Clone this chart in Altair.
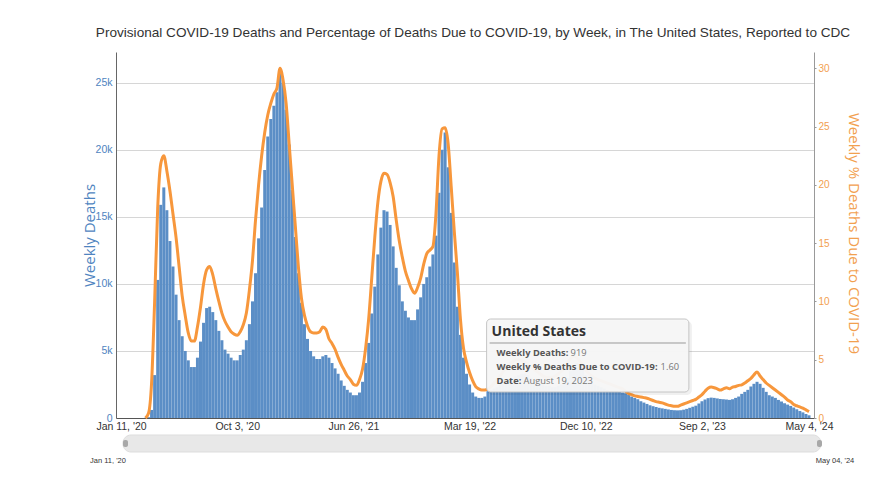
import altair as alt
import pandas as pd

# ---------------- data ----------------
start_date = "2020-01-11"
n_weeks = 226

deaths = [
    0, 0, 0, 0, 0, 0, 0, 0, 20, 60,
    600, 3200, 10300, 15900, 17200, 15500, 13200, 11300, 9200, 7300,
    6100, 5000, 4300, 3800, 3800, 4500, 5700, 7100, 8200, 8300,
    7900, 7300, 6500, 5800, 5100, 4800, 4500, 4300, 4300, 4700,
    5100, 5800, 7000, 8700, 10800, 13400, 15700, 18500, 21000, 22300,
    23300, 24300, 26000, 25000, 23000, 20400, 17000, 13500, 10800, 8600,
    7000, 5900, 5000, 4600, 4400, 4400, 4600, 4700, 4500, 4100,
    3700, 3300, 2800, 2400, 2100, 1900, 1700, 1700, 1900, 2700,
    4100, 5600, 7800, 9800, 12200, 14200, 15500, 15400, 14400, 12800,
    11200, 9900, 8700, 8000, 7500, 7300, 7300, 8100, 9000, 10000,
    10500, 11300, 12200, 13600, 16800, 20000, 21300, 18700, 15300, 11600,
    8300, 6200, 4500, 3300, 2500, 1900, 1600, 1500, 1500, 1600,
    2000, 2100, 2200, 2300, 2500, 2600, 2700, 2800, 3000, 3100,
    3200, 3300, 3300, 3200, 3000, 2900, 2700, 2600, 2500, 2400,
    2400, 2300, 2300, 2400, 2500, 2700, 3000, 3500, 3900, 4100,
    4000, 3600, 3200, 2800, 2600, 2500, 2400, 2300, 2200, 2100,
    2000, 2000, 2000, 1950, 1900, 1850, 1750, 1600, 1500, 1400,
    1250, 1150, 1050, 950, 880, 820, 760, 720, 680, 640,
    600, 580, 570, 580, 620, 680, 760, 840, 919, 1080,
    1250, 1380, 1480, 1520, 1500, 1460, 1420, 1400, 1380, 1350,
    1400, 1500, 1600, 1800, 1950, 2100, 2350, 2550, 2700, 2550,
    2250, 1950, 1700, 1600, 1500, 1350, 1230, 1100, 1000, 900,
    780, 650, 520, 420, 300, 200,
]

pct = [
    None, None, None, None, None, None, None, None, 0.0, 0.4,
    3.0, 10.0, 18.0, 21.8, 22.5, 21.2, 19.5, 17.5, 15.5, 13.0,
    10.5, 8.8, 7.3, 6.6, 6.6, 7.8, 9.5, 11.5, 12.7, 13.0,
    12.3, 11.1, 10.0, 9.0, 8.3, 7.8, 7.4, 7.2, 7.1, 7.4,
    8.0, 9.0, 11.0, 13.5, 17.0, 20.0, 22.5, 24.5, 26.0, 27.0,
    27.8, 28.3, 30.0, 29.0, 27.0, 23.5, 20.0, 16.5, 13.0, 10.3,
    8.8, 7.9, 7.4, 7.3, 7.3, 7.4, 7.8, 7.6, 6.8, 6.4,
    5.9, 5.2, 4.6, 4.1, 3.6, 3.3, 2.9, 2.8, 3.3, 4.2,
    6.0, 8.5, 12.0, 15.5, 18.5, 20.3, 21.0, 20.9, 20.2, 19.0,
    17.0, 15.2, 13.8, 12.6, 11.8, 11.1, 10.7, 11.2, 12.0, 13.2,
    14.1, 14.4, 14.7, 17.5, 22.5, 24.8, 24.9, 23.5, 19.8, 16.0,
    12.5, 8.5, 6.0, 4.8, 3.9, 3.2, 2.7, 2.5, 2.4, 2.4,
    2.5, 2.7, 3.0, 3.3, 3.6, 4.0, 4.3, 4.6, 4.8, 5.0,
    5.0, 4.9, 4.8, 4.6, 4.4, 4.2, 4.0, 3.8, 3.6, 3.5,
    3.5, 3.5, 3.6, 3.8, 4.0, 4.3, 4.7, 5.1, 5.3, 5.2,
    4.9, 4.5, 4.1, 3.8, 3.6, 3.4, 3.3, 3.2, 3.1, 3.0,
    2.9, 2.8, 2.7, 2.6, 2.5, 2.3, 2.1, 2.0, 1.9, 1.85,
    1.8, 1.75, 1.7, 1.6, 1.5, 1.4, 1.35, 1.3, 1.2, 1.1,
    1.05, 1.0, 1.0, 1.1, 1.2, 1.3, 1.4, 1.5, 1.6, 1.8,
    2.0, 2.3, 2.55, 2.65, 2.6, 2.5, 2.4, 2.5, 2.6, 2.5,
    2.65, 2.7, 2.8, 2.85, 3.0, 3.2, 3.4, 3.7, 3.95, 3.6,
    3.3, 3.0, 2.8, 2.6, 2.4, 2.2, 2.0, 1.8, 1.55, 1.4,
    1.15, 1.05, 0.95, 0.85, 0.7, 0.55,
]

x_tick_dates = [(2020, 1, 11), (2020, 10, 3), (2021, 6, 26), (2022, 3, 19),
                (2022, 12, 10), (2023, 9, 2), (2024, 5, 4)]
left_ticks = [0, 5000, 10000, 15000, 20000, 25000]
right_ticks = [0, 5, 10, 15, 20, 25, 30]

title_text = ("Provisional COVID-19 Deaths and Percentage of Deaths Due to COVID-19, "
              "by Week, in The United States, Reported to CDC")

tip_region = ["2022-04-27", "2023-08-03"]
tip_header = "United States"
tip_labels = ["Weekly Deaths:", "Weekly % Deaths Due to COVID-19:", "Date:"]
tip_values = ["919", "1.60", "August 19, 2023"]

nav_range = ["2020-01-11", "2024-05-04"]
nav_labels = ["Jan 11, '20", "May 04, '24"]

# ---------------- build ----------------
dates = pd.date_range(start_date, periods=n_weeks, freq="7D").strftime("%Y-%m-%d")
df = pd.DataFrame({"date": dates, "deaths": deaths, "pct": pct})

W, H = 698, 366
LIB = "Liberation Sans, Arial, sans-serif"
SANS = "Open Sans, sans-serif"
BLUE = "#5b8ec6"
BLUE_TXT = "#4f84c0"
ORANGE = "#f7973c"
ORANGE_TXT = "#f2a04f"

def dt(t):
    return alt.DateTime(year=t[0], month=t[1], date=t[2], utc=True)

xscale = alt.Scale(type="utc", domain=[dt(x_tick_dates[0]), dt(x_tick_dates[-1])], nice=False)
xaxis = alt.Axis(values=[dt(t) for t in x_tick_dates],
                 labelExpr="utcFormat(datum.value, \"%b %-d, '%y\")",
                 title=None, labelFont=LIB, labelFontSize=10.5, labelColor="#333",
                 domainColor="#555", ticks=False, labelPadding=3, grid=False,
                 labelOverlap=False, labelFlush=False, labelBound=False)

bars = alt.Chart(df).mark_bar(color=BLUE, size=3.0).encode(
    x=alt.X("date:T", scale=xscale, axis=xaxis),
    y=alt.Y("deaths:Q", scale=alt.Scale(domain=[0, 27300], nice=False),
            axis=alt.Axis(values=left_ticks,
                          labelExpr="datum.value == 0 ? '0' : (datum.value/1000) + 'k'",
                          labelFont=LIB, labelFontSize=10.5, labelColor=BLUE_TXT,
                          ticks=False, labelPadding=4, domainColor="#666",
                          gridColor="#d6d6d6", grid=True,
                          title="Weekly Deaths", titleFont=SANS, titleFontSize=15,
                          titleFontWeight="normal", titleColor=BLUE_TXT,
                          titleX=-27, titleY=183, titleAlign="center",
                          titleBaseline="middle")),
)

line = alt.Chart(df).mark_line(color=ORANGE, strokeWidth=3, interpolate="monotone").encode(
    x=alt.X("date:T", scale=xscale, axis=xaxis),
    y=alt.Y("pct:Q", scale=alt.Scale(domain=[0, 31.4], nice=False),
            axis=alt.Axis(orient="right", values=right_ticks, labelFont=LIB,
                          labelFontSize=10, labelColor=ORANGE_TXT, tickSize=2,
                          tickColor="#999", domainColor="#999", labelPadding=2,
                          grid=False,
                          title="Weekly % Deaths Due to COVID-19", titleFont=SANS,
                          titleFontSize=15, titleFontWeight="normal",
                          titleColor=ORANGE_TXT, titleAngle=90,
                          titleX=39, titleY=181, titleAlign="center",
                          titleBaseline="middle")),
)

tip_df = pd.DataFrame({"x0": [tip_region[0]], "x1": [tip_region[1]]})
tx0 = alt.X("x0:T", scale=xscale, axis=xaxis)
tip_shadow = alt.Chart(tip_df).mark_rect(fill="#000000", opacity=0.06, cornerRadius=5,
                                         xOffset=1, x2Offset=3).encode(
    x=tx0, x2="x1:T", y=alt.value(269), y2=alt.value(343))
tip_box = alt.Chart(tip_df).mark_rect(fill="#f7f7f7", stroke="#c4c4c4", strokeWidth=1,
                                      cornerRadius=4, opacity=0.97).encode(
    x=tx0, x2="x1:T", y=alt.value(267), y2=alt.value(340))
tip_head = alt.Chart(tip_df).mark_text(text=tip_header, align="left", baseline="middle",
                                       dx=5, font=SANS, fontSize=14, fontWeight="bold",
                                       color="#333").encode(x=tx0, y=alt.value(280))
tip_sep = alt.Chart(tip_df).mark_rule(color="#999", strokeWidth=1, xOffset=3,
                                      x2Offset=-3).encode(x=tx0, x2="x1:T", y=alt.value(291))
row_y = [301, 315, 329]
val_dx = [84, 174, 37]
tip_rows = []
for lab, val, yy, vdx in zip(tip_labels, tip_values, row_y, val_dx):
    tip_rows.append(alt.Chart(tip_df).mark_text(text=lab, align="left", baseline="middle",
                                                dx=10, font=SANS, fontSize=9.3,
                                                fontWeight="bold", color="#555").encode(
        x=tx0, y=alt.value(yy)))
    tip_rows.append(alt.Chart(tip_df).mark_text(text=val, align="left", baseline="middle",
                                                dx=vdx, font=SANS, fontSize=9.3,
                                                color="#777").encode(
        x=tx0, y=alt.value(yy)))

nav_df = pd.DataFrame({"x0": [nav_range[0]], "x1": [nav_range[1]]})
nx0 = alt.X("x0:T", scale=xscale, axis=xaxis)
nx1 = alt.X("x1:T", scale=xscale, axis=xaxis)
nav_bar = alt.Chart(nav_df).mark_rect(fill="#e8e8e8", stroke="#dddddd", cornerRadius=8,
                                      xOffset=2, x2Offset=12, clip=False).encode(
    x=nx0, x2="x1:T", y=alt.value(383), y2=alt.value(400))
nav_h1 = alt.Chart(nav_df).mark_rect(fill="#a8a8a8", cornerRadius=2, xOffset=2,
                                     x2Offset=7).encode(
    x=nx0, x2="x0:T", y=alt.value(388), y2=alt.value(395))
nav_h2 = alt.Chart(nav_df).mark_rect(fill="#a8a8a8", cornerRadius=2, xOffset=8,
                                     x2Offset=13).encode(
    x=nx1, x2="x1:T", y=alt.value(388), y2=alt.value(395))
nav_t1 = alt.Chart(nav_df).mark_text(text=nav_labels[0], align="center", baseline="middle",
                                     dx=-13, font=LIB, fontSize=7.5, color="#333").encode(
    x=nx0, y=alt.value(409))
nav_t2 = alt.Chart(nav_df).mark_text(text=nav_labels[1], align="center", baseline="middle",
                                     dx=26, font=LIB, fontSize=7.5, color="#333").encode(
    x=nx1, y=alt.value(409))

chart = alt.layer(
    bars, line, tip_shadow, tip_box, tip_head, tip_sep, *tip_rows,
    nav_bar, nav_h1, nav_h2, nav_t1, nav_t2,
).resolve_scale(y="independent").properties(
    width=W, height=H,
    title=alt.TitleParams(text=title_text, font=LIB, fontSize=13.6, fontWeight="normal",
                          color="#333", anchor="middle", offset=12, dx=8),
    autosize=alt.AutoSizeParams(type="none"),
    padding={"left": 108, "top": 44, "right": 60, "bottom": 50},
).configure_view(stroke=None)

chart.save("out.html", embed_options={"renderer": "svg", "actions": False})
